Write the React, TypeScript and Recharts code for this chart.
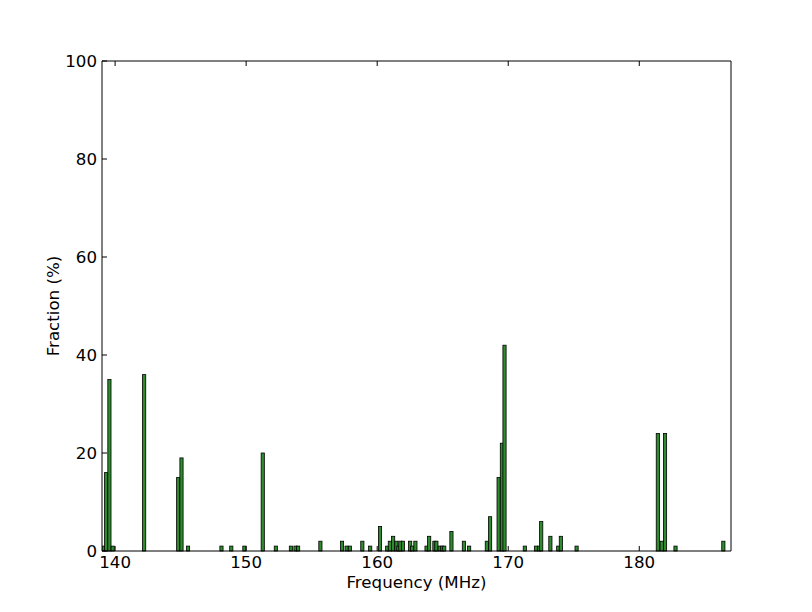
import React from 'react';
import { BarChart, Bar, XAxis, YAxis } from 'recharts';

// bar centres (MHz) and heights (%)
const freqs = [
  139.1, 139.3, 139.55, 139.8, 142.2, 144.8, 145.05, 145.55, 148.1, 148.85,
  149.85, 151.25, 152.25, 153.4, 153.75, 153.95, 155.65, 157.3, 157.65, 157.9,
  158.85, 159.45, 160.2, 160.75, 160.95, 161.2, 161.45, 161.6, 161.75, 161.95,
  162.5, 162.65, 162.9, 163.75, 163.95, 164.35, 164.5, 164.75, 164.95, 165.1,
  165.65, 166.6, 167.0, 168.35, 168.6, 169.25, 169.5, 169.7, 171.25, 172.1,
  172.35, 172.5, 173.2, 173.8, 174.0, 175.2, 181.4, 181.7, 181.95, 182.75,
  186.4,
];
const fractions = [
  1, 16, 35, 1, 36, 15, 19, 1, 1, 1,
  1, 20, 1, 1, 1, 1, 2, 2, 1, 1,
  2, 1, 5, 1, 2, 3, 2, 1, 2, 2,
  2, 1, 2, 1, 3, 2, 2, 1, 1, 1,
  4, 2, 1, 2, 7, 15, 22, 42, 1, 1,
  1, 6, 3, 1, 3, 1, 24, 2, 24, 1,
  2,
];
const xTicks = [140, 150, 160, 170, 180];
const yTicks = [0, 20, 40, 60, 80, 100];

const data = freqs.map((f, i) => ({ freq: f, fraction: fractions[i] }));

const FONT = 'DejaVu Sans, sans-serif';
const FS = 16.67;
const TICK = 5;
const BAR_W = 3.2;

const BottomTick = (props: any) => {
  const { x, y, payload } = props;
  return (
    <g>
      <line x1={x} x2={x} y1={y} y2={y - TICK} stroke="#000" />
      <text x={x} y={y + 17} textAnchor="middle" fontFamily={FONT} fontSize={FS} fill="#000">
        {payload.value}
      </text>
    </g>
  );
};

const TopTick = (props: any) => {
  const { x, y } = props;
  return <line x1={x} x2={x} y1={y} y2={y + TICK} stroke="#000" />;
};

const LeftTick = (props: any) => {
  const { x, y, payload } = props;
  return (
    <g>
      <line x1={x} x2={x + TICK} y1={y} y2={y} stroke="#000" />
      <text x={x - 5} y={y} dy="0.36em" textAnchor="end" fontFamily={FONT} fontSize={FS} fill="#000">
        {payload.value}
      </text>
    </g>
  );
};

const RightTick = (props: any) => {
  const { x, y } = props;
  return <line x1={x} x2={x - TICK} y1={y} y2={y} stroke="#000" />;
};

// fixed-width bar centred on the library's x position
const ThinBar = (props: any) => {
  const { x, y, width, height } = props;
  if (!height) return null;
  const cx = x + width / 2;
  return (
    <rect
      x={cx - BAR_W / 2}
      y={y}
      width={BAR_W}
      height={height}
      fill="#2e8b2e"
      stroke="#000"
      strokeWidth={0.8}
    />
  );
};

export default function App() {
  return (
    <BarChart
      width={800}
      height={600}
      data={data}
      margin={{ top: 0, right: 0, bottom: 0, left: 0 }}
      style={{ background: '#fff' }}
    >
      <XAxis
        dataKey="freq"
        type="number"
        domain={[139, 187]}
        ticks={xTicks}
        allowDataOverflow
        height={57}
        tickSize={0}
        tickMargin={0}
        tickLine={false}
        axisLine={{ stroke: '#000' }}
        tick={<BottomTick />}
        label={() => (
          <text x={408.5} y={580} textAnchor="middle" fontFamily={FONT} fontSize={FS} fill="#000">
            Frequency (MHz)
          </text>
        )}
      />
      <XAxis
        xAxisId="top"
        orientation="top"
        dataKey="freq"
        type="number"
        domain={[139, 187]}
        ticks={xTicks}
        allowDataOverflow
        height={53}
        tickSize={0}
        tickMargin={0}
        tickLine={false}
        axisLine={{ stroke: '#000' }}
        tick={<TopTick />}
      />
      <YAxis
        domain={[0, 100]}
        ticks={yTicks}
        width={94}
        tickSize={0}
        tickMargin={0}
        tickLine={false}
        axisLine={{ stroke: '#000' }}
        tick={<LeftTick />}
        label={() => (
          <text
            x={51}
            y={298}
            transform="rotate(-90 51 298)"
            textAnchor="middle"
            fontFamily={FONT}
            fontSize={FS}
            fill="#000"
          >
            Fraction (%)
          </text>
        )}
      />
      <YAxis
        yAxisId="right"
        orientation="right"
        domain={[0, 100]}
        ticks={yTicks}
        width={77}
        tickSize={0}
        tickMargin={0}
        tickLine={false}
        axisLine={{ stroke: '#000' }}
        tick={<RightTick />}
      />
      <Bar
        dataKey="fraction"
        shape={<ThinBar />}
        isAnimationActive={false}
      />
    </BarChart>
  );
}
